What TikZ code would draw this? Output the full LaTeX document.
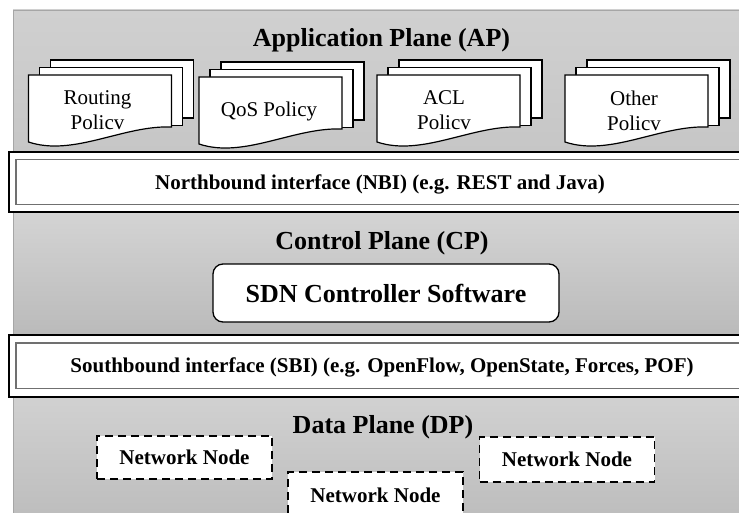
\documentclass[tikz,border=0pt]{standalone}
\usepackage{fontspec}
\setmainfont{Liberation Serif}
\definecolor{apTop}{HTML}{D0D0D0}
\definecolor{apBot}{HTML}{C6C6C6}
\definecolor{cpTop}{HTML}{D4D4D4}
\definecolor{cpBot}{HTML}{BABABA}
\definecolor{dpTop}{HTML}{D1D1D1}
\definecolor{dpBot}{HTML}{BBBBBB}
\definecolor{edgeGray}{HTML}{A6A6A6}
\definecolor{innerLine}{HTML}{707070}
\newcommand\polstack[2]{%
  \draw[docline] ({#1+22},{#2-15}) rectangle ({#1+165},{#2+43});
  \draw[docline] ({#1+11},{#2-7.5}) rectangle ({#1+154},{#2+50.5});
  \draw[docline] (#1,#2) -- ({#1+143},#2) -- ({#1+143},{#2+52})
     .. controls ({#1+95},{#2+50}) and ({#1+45},{#2+82}) .. (#1,{#2+67}) -- cycle;
}
\begin{document}
\begin{tikzpicture}[x=1pt,y=-1pt,
  docline/.style={draw=black,line width=1.2pt,fill=white},
  planetitle/.style={font=\bfseries\fontsize{26}{30}\selectfont,anchor=base,inner sep=0pt},
  ifacetext/.style={font=\bfseries\fontsize{21}{24}\selectfont,anchor=base,inner sep=0pt},
  poltext/.style={font=\fontsize{21}{25}\selectfont,align=center,inner sep=0pt},
  outerbox/.style={draw=black,line width=1.4pt,fill=white},
  innerbox/.style={draw=innerLine,line width=1.7pt},
  nnode/.style={draw=black,fill=white,line width=1.6pt,dash pattern=on 8pt off 5pt,
     minimum width=175pt,inner sep=0pt,font=\bfseries\fontsize{21}{24}\selectfont},
  ctrlbox/.style={draw=black,fill=white,line width=1.3pt,rounded corners=10pt,
     minimum width=346pt,minimum height=58pt,inner sep=0pt,
     font=\bfseries\fontsize{26}{30}\selectfont}]
\useasboundingbox (0,0) rectangle (739,513);
\clip (0,0) rectangle (739,513);
\fill[white] (0,0) rectangle (739,513);
% planes
\shade[top color=apTop,bottom color=apBot] (13,10) rectangle (760,153);
\shade[top color=cpTop,bottom color=cpBot] (13,212) rectangle (760,336);
\shade[top color=dpTop,bottom color=dpBot] (13,396) rectangle (760,530);
\draw[edgeGray,line width=0.9pt] (13,530) -- (13,10) -- (760,10);
% application plane
\node[planetitle] (aptitle) at (381.5,47) {Application Plane (AP)};
\polstack{565}{75}
\polstack{377}{75}
\polstack{199}{77}
\polstack{28.5}{75}
\node[poltext] (routing) at (97.5,110.5) {Routing\\Policv};
\node[poltext,anchor=base] (qos) at (269,117) {QoS Policy};
\node[poltext] (acl) at (444,110.5) {ACL\\Policv};
\node[poltext] (other) at (634,110.5) {Other\\Policv};
% northbound interface
\draw[outerbox] (9,152) rectangle (760,212);
\draw[innerbox] (16,159.5) rectangle (760,204.5);
\node[ifacetext] (nbi) at (380,190) {Northbound interface (NBI) (e.g. REST and Java)};
% control plane
\node[planetitle] (cptitle) at (382,250) {Control Plane (CP)};
\node[ctrlbox] (sdn) at (386,293) {SDN Controller Software};
% southbound interface
\draw[outerbox] (9,335) rectangle (760,397);
\draw[innerbox] (16,343) rectangle (760,388.5);
\node[ifacetext] (sbi) at (382,372) {Southbound interface (SBI) (e.g. OpenFlow, OpenState, Forces, POF)};
% data plane
\node[planetitle] (dptitle) at (383,433) {Data Plane (DP)};
\node[nnode,minimum height=43pt] (nn1) at (184.5,457.5) {Network Node};
\node[nnode,minimum height=45pt] (nn2) at (567,459.5) {Network Node};
\node[nnode,minimum height=46pt] (nn3) at (375.5,495) {Network Node};
\end{tikzpicture}
\end{document}
